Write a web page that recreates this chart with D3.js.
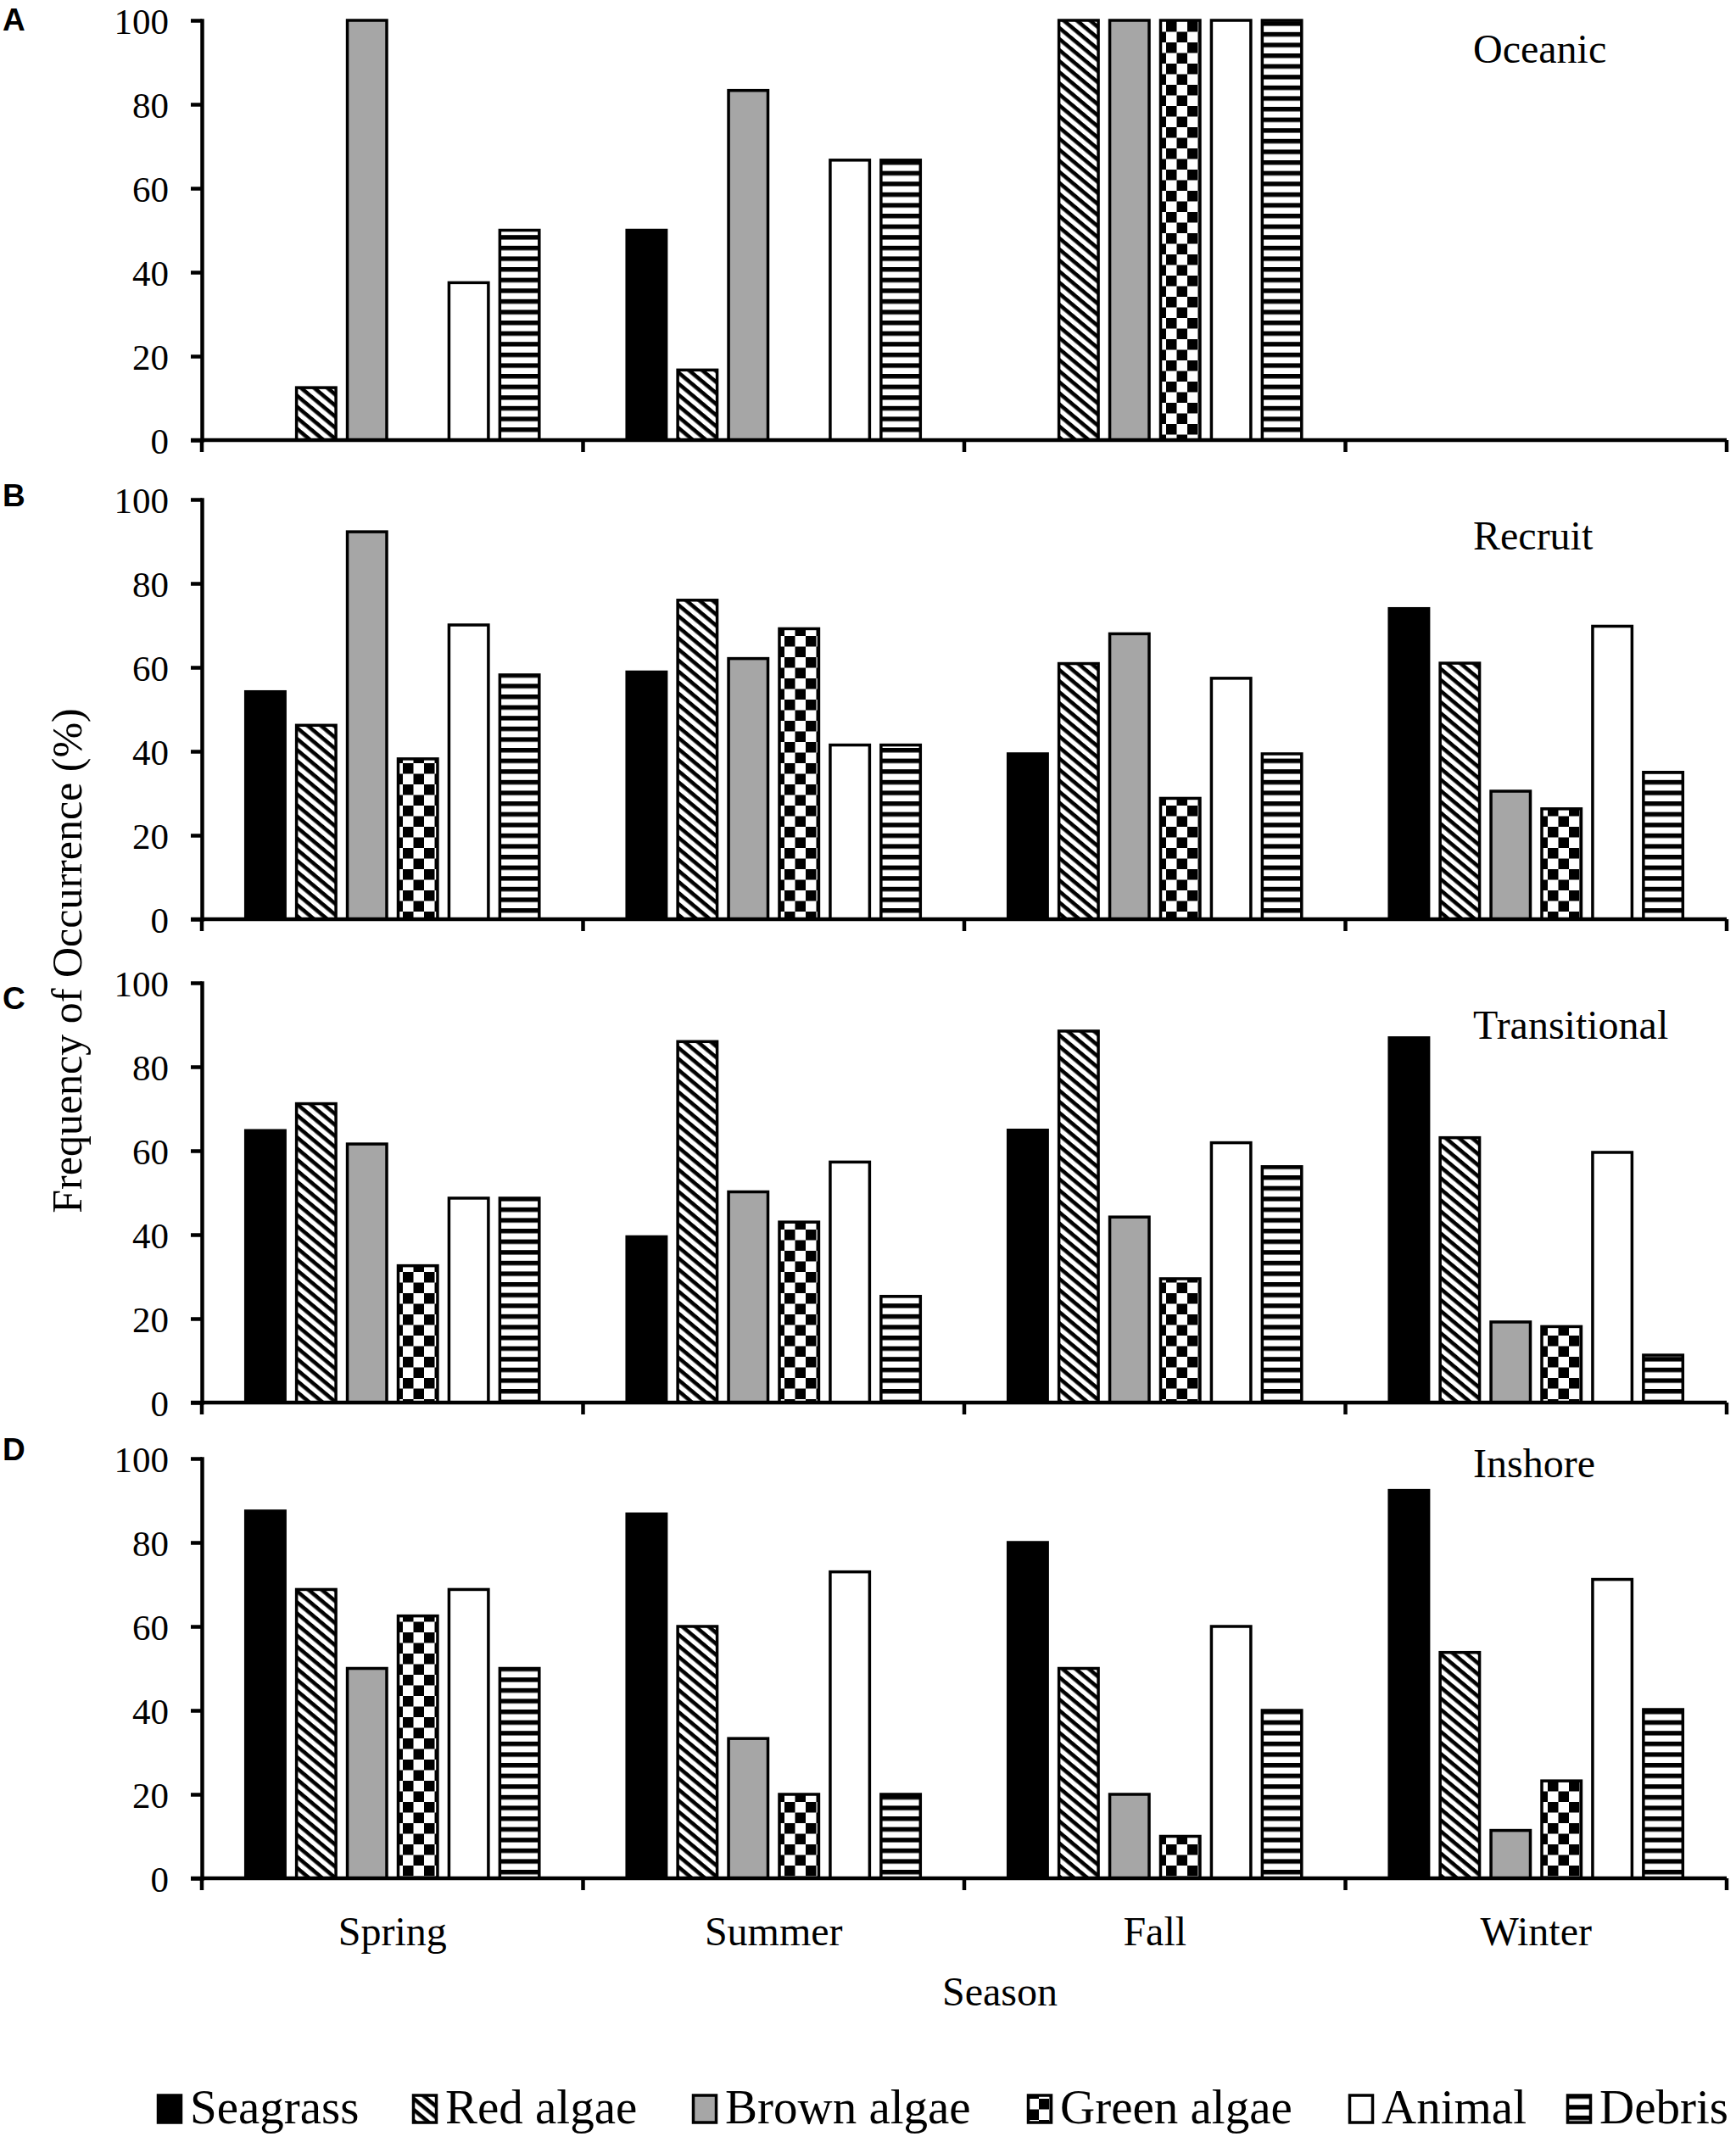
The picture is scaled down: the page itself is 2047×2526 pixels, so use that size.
<!DOCTYPE html>
<html lang="en">
<head>
<meta charset="UTF-8">
<title>Frequency of Occurrence by season</title>
<script src="https://cdnjs.cloudflare.com/ajax/libs/d3/7.8.5/d3.min.js"></script>
<style>
  html, body { margin: 0; padding: 0; background: #fff; }
  svg { display: block; }
  .ytick text { font-family: "Liberation Serif", "Times New Roman", serif !important; }
</style>
</head>
<body>
<svg id="chart" width="2047" height="2526"></svg>
<script>
// ---- data ----
var seasons = ['Spring', 'Summer', 'Fall', 'Winter'];
var series = ['Seagrass', 'Red algae', 'Brown algae', 'Green algae', 'Animal', 'Debris'];
var panelNames = ['Oceanic', 'Recruit', 'Transitional', 'Inshore'];
var panelLetters = ['A', 'B', 'C', 'D'];
var yTicks = [0, 20, 40, 60, 80, 100];

// one row per season, one value per series
var oceanic = [
  [0, 12.5, 100, 0, 37.5, 50],
  [50, 16.7, 83.3, 0, 66.7, 66.7],
  [0, 100, 100, 100, 100, 100],
  [0, 0, 0, 0, 0, 0]
];
var recruit = [
  [54.2, 46.2, 92.3, 38.2, 70.1, 58.2],
  [58.9, 76.0, 62.1, 69.2, 41.5, 41.5],
  [39.4, 60.9, 68.0, 28.8, 57.4, 39.4],
  [74.0, 61.0, 30.5, 26.3, 69.8, 35.0]
];
var transitional = [
  [64.8, 71.2, 61.6, 32.6, 48.7, 48.7],
  [39.5, 86.0, 50.2, 43.0, 57.3, 25.3],
  [64.9, 88.5, 44.2, 29.5, 61.9, 56.2],
  [86.9, 63.1, 19.2, 18.1, 59.6, 11.3]
];
var inshore = [
  [87.5, 68.8, 50.0, 62.5, 68.8, 50.0],
  [86.8, 60.0, 33.3, 20.0, 73.0, 20.0],
  [80.0, 50.0, 20.0, 10.0, 60.0, 40.0],
  [92.4, 53.8, 11.4, 23.2, 71.2, 40.2]
];
var panelValues = [oceanic, recruit, transitional, inshore];

// ---- layout ----
var panelTop = [24, 589, 1159, 1720];   // y of the 100 line
var panelHeight = 495;
var titleDy = [50, 59, 66, 22];          // baseline of panel title below the 100 line
var letterY = [36, 597, 1190, 1722];
var legendX = [185, 486, 816, 1211, 1590, 1847];
var axisStroke = 4.5;
var serif = '"Liberation Serif", "Times New Roman", serif';
var sans = '"Liberation Sans", Arial, sans-serif';

var svg = d3.select('#chart');
svg.append('rect').attr('width', 2047).attr('height', 2526).attr('fill', '#fff');

// ---- fills ----
var defs = svg.append('defs');

var pRed = defs.append('pattern')
    .attr('id', 'p-red').attr('patternUnits', 'userSpaceOnUse')
    .attr('width', 20).attr('height', 10)
    .attr('patternTransform', 'rotate(40)');
pRed.append('rect').attr('width', 20).attr('height', 10).attr('fill', '#fff');
pRed.append('rect').attr('width', 20).attr('height', 4.6).attr('fill', '#000');

var pGreen = defs.append('pattern')
    .attr('id', 'p-green').attr('patternUnits', 'userSpaceOnUse')
    .attr('width', 25).attr('height', 25);
pGreen.append('rect').attr('width', 25).attr('height', 25).attr('fill', '#fff');
pGreen.append('rect').attr('width', 12.5).attr('height', 12.5).attr('fill', '#000');
pGreen.append('rect').attr('x', 12.5).attr('y', 12.5).attr('width', 12.5).attr('height', 12.5).attr('fill', '#000');

var pDebris = defs.append('pattern')
    .attr('id', 'p-debris').attr('patternUnits', 'userSpaceOnUse')
    .attr('width', 10).attr('height', 12.6);
pDebris.append('rect').attr('width', 10).attr('height', 12.6).attr('fill', '#fff');
pDebris.append('rect').attr('width', 10).attr('height', 5.4).attr('fill', '#000');

var fills = {
  'Seagrass': '#000',
  'Red algae': 'url(#p-red)',
  'Brown algae': '#a6a6a6',
  'Green algae': 'url(#p-green)',
  'Animal': '#fff',
  'Debris': 'url(#p-debris)'
};

// ---- scales ----
var x0 = d3.scaleBand().domain(seasons).range([238, 2036]).padding(0);
var x1 = d3.scaleBand().domain(series).range([0, x0.bandwidth()])
    .paddingInner(0.225).paddingOuter(0.8625);

panelNames.forEach(function (name, i) {
  var y = d3.scaleLinear().domain([0, 100]).range([panelTop[i] + panelHeight, panelTop[i]]);
  var g = svg.append('g').attr('class', 'panel');

  // bars
  var rows = [];
  panelValues[i].forEach(function (row, si) {
    row.forEach(function (v, k) {
      if (v > 0) rows.push({ season: seasons[si], key: series[k], value: v });
    });
  });
  g.selectAll('rect.bar')
      .data(rows)
      .enter()
      .append('rect')
      .attr('class', 'bar')
      .attr('x', function (d) { return x0(d.season) + x1(d.key); })
      .attr('width', x1.bandwidth())
      .attr('y', function (d) { return y(d.value); })
      .attr('height', function (d) { return y(0) - y(d.value); })
      .attr('fill', function (d) { return fills[d.key]; })
      .attr('stroke', '#000')
      .attr('stroke-width', 3.5);

  // y axis
  var ya = g.append('g')
      .attr('class', 'ytick')
      .attr('transform', 'translate(' + x0.range()[0] + ',0)')
      .call(d3.axisLeft(y).tickValues(yTicks).tickSize(13).tickPadding(26).tickSizeOuter(0));
  ya.attr('font-family', serif).attr('font-size', 43);
  ya.select('.domain').attr('stroke-width', axisStroke).attr('stroke-linecap', 'square');
  ya.selectAll('.tick line').attr('stroke-width', axisStroke);
  ya.selectAll('.tick text')
      .attr('font-size', 43)
      .attr('dy', '0.36em')
      .attr('fill', '#000')
      .style('font-family', serif);

  // x axis: baseline with ticks at season boundaries
  var xa = g.append('g');
  xa.append('line')
      .attr('x1', x0.range()[0] - 13).attr('x2', x0.range()[1])
      .attr('y1', y(0)).attr('y2', y(0))
      .attr('stroke', '#000').attr('stroke-width', axisStroke);
  var edges = seasons.map(function (s) { return x0(s); }).concat([x0.range()[1]]);
  xa.selectAll('line.xt')
      .data(edges)
      .enter()
      .append('line')
      .attr('class', 'xt')
      .attr('x1', function (d) { return d; })
      .attr('x2', function (d) { return d; })
      .attr('y1', y(0))
      .attr('y2', y(0) + 14)
      .attr('stroke', '#000')
      .attr('stroke-width', axisStroke);

  // panel title and letter
  g.append('text')
      .attr('x', 1737)
      .attr('y', panelTop[i] + titleDy[i])
      .attr('font-family', serif)
      .attr('font-size', 48)
      .text(name);
  g.append('text')
      .attr('x', 3)
      .attr('y', letterY[i])
      .attr('font-family', sans)
      .attr('font-weight', 'bold')
      .attr('font-size', 37)
      .text(panelLetters[i]);

  // season labels only under the last panel
  if (i === panelNames.length - 1) {
    g.selectAll('text.season')
        .data(seasons)
        .enter()
        .append('text')
        .attr('class', 'season')
        .attr('x', function (d) { return x0(d) + x0.bandwidth() / 2; })
        .attr('y', 2294)
        .attr('text-anchor', 'middle')
        .attr('font-family', serif)
        .attr('font-size', 48)
        .text(function (d) { return d; });
  }
});

// axis titles
svg.append('text')
    .attr('x', 1179)
    .attr('y', 2365)
    .attr('text-anchor', 'middle')
    .attr('font-family', serif)
    .attr('font-size', 48)
    .text('Season');

svg.append('text')
    .attr('transform', 'translate(96,1133) rotate(-90)')
    .attr('text-anchor', 'middle')
    .attr('font-family', serif)
    .attr('font-size', 50)
    .text('Frequency of Occurrence (%)');

// legend
var legend = svg.append('g').attr('class', 'legend');
series.forEach(function (s, k) {
  legend.append('rect')
      .attr('x', legendX[k] + 1.5).attr('y', 2471)
      .attr('width', 27).attr('height', 32)
      .attr('fill', fills[s])
      .attr('stroke', '#000')
      .attr('stroke-width', 3.5);
  legend.append('text')
      .attr('x', legendX[k] + 39)
      .attr('y', 2504)
      .attr('font-family', serif)
      .attr('font-size', 57)
      .text(s);
});
</script>
</body>
</html>
